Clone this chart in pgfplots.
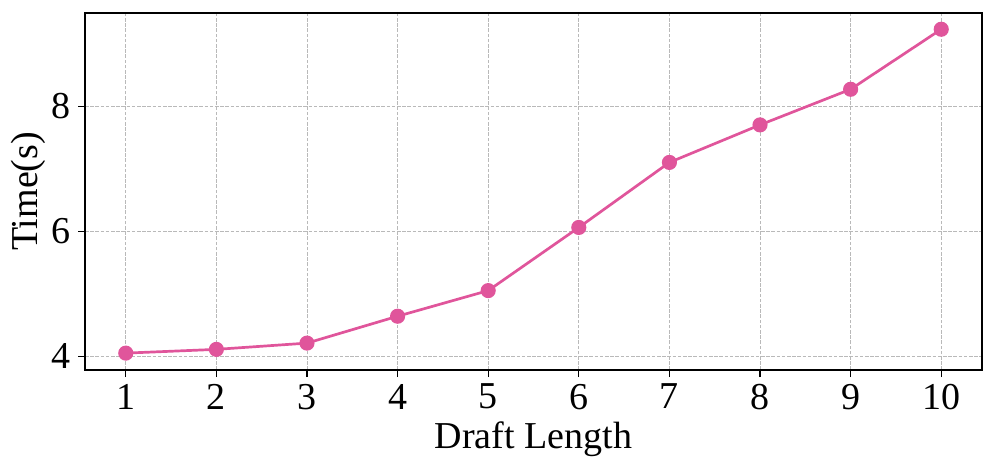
\documentclass[border=0pt]{standalone}
\usepackage{pgfplots}
\pgfplotsset{compat=1.18}
\usepackage{fontspec}
\setmainfont{Liberation Serif}
\definecolor{pinkline}{HTML}{E0559B}
\begin{document}
\begin{tikzpicture}
\begin{axis}[
  scale only axis,
  width=448.5pt, height=178.5pt,
  xmin=0.55, xmax=10.45,
  ymin=3.78, ymax=9.49,
  xtick={1,...,10},
  ytick={4,6,8},
  tick align=outside,
  major tick length=3.5pt,
  tick style={black, line width=0.6pt},
  xtick pos=bottom, ytick pos=left,
  grid=major,
  grid style={dash pattern=on 1.8pt off 0.8pt, gray!55, line width=0.4pt},
  axis line style={black, line width=0.6pt},
  /pgf/number format/assume math mode=true,
  ticklabel style={font=\fontsize{19}{22}\selectfont},
  label style={font=\fontsize{19}{22}\selectfont},
  xlabel={Draft Length},
  ylabel={Time(s)},
  xlabel style={yshift=1pt},
  ylabel style={yshift=-3.5pt},
]
\addplot[color=pinkline, line width=1.35pt, mark=*, mark size=3.1pt, mark options={fill=pinkline, draw=pinkline}]
coordinates {
(1,4.05) (2,4.11) (3,4.21) (4,4.64) (5,5.05) (6,6.06) (7,7.10) (8,7.70) (9,8.27) (10,9.23)
};
\end{axis}
\pgfresetboundingbox
\path ([shift={(-42.5pt,-50pt)}]current axis.south west) rectangle ([shift={(7pt,6.5pt)}]current axis.north east);
\end{tikzpicture}
\end{document}
